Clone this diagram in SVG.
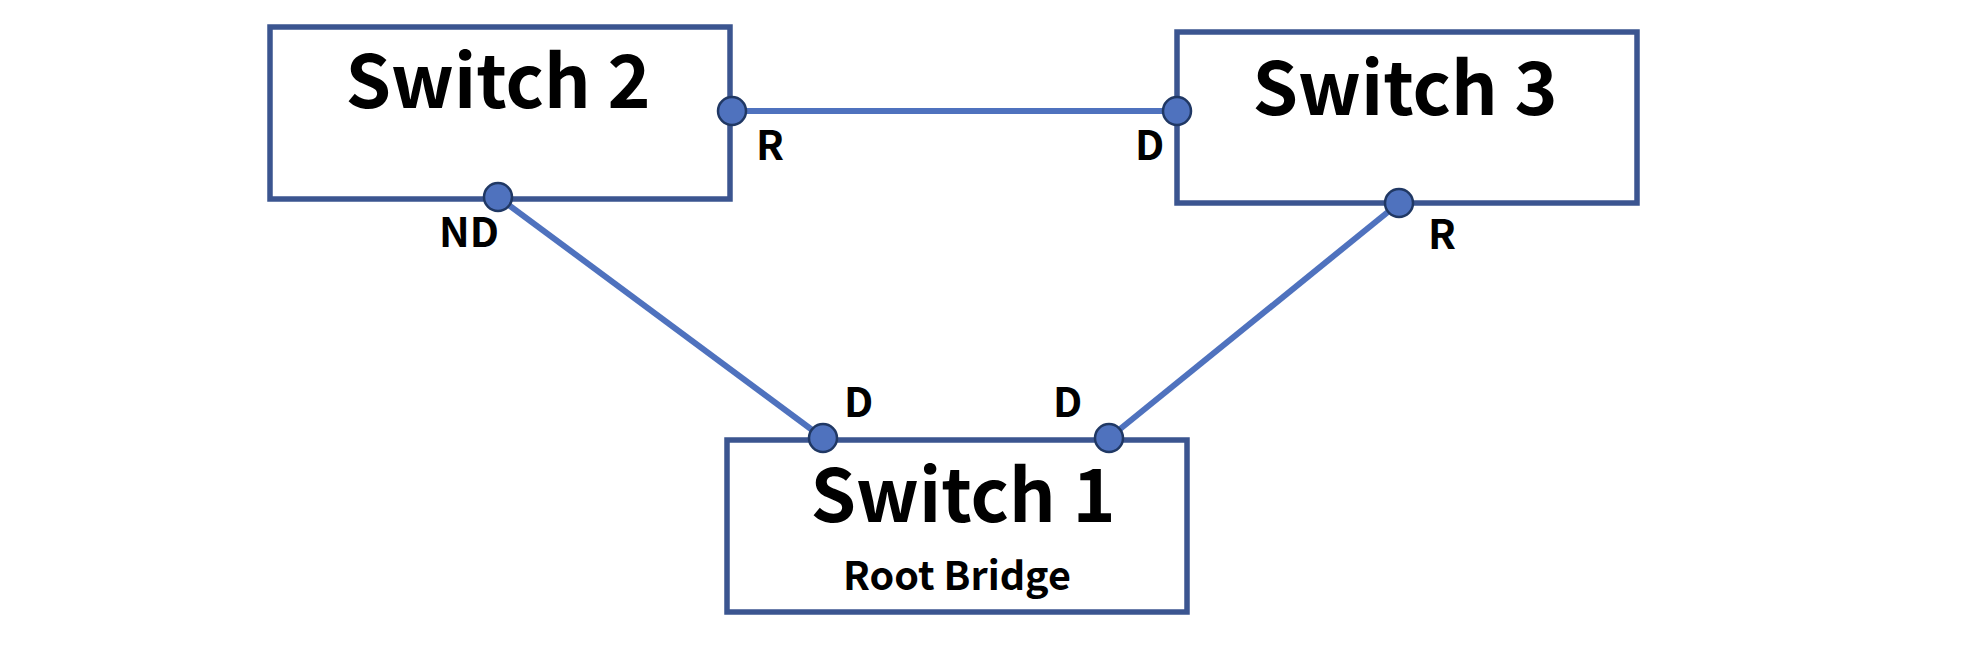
<svg xmlns="http://www.w3.org/2000/svg" width="1964" height="652" viewBox="0 0 1964 652">
<style>
.box{fill:#fff;stroke:#3b5590;stroke-width:5.5}
.link{stroke:#4f72be;stroke-width:6;fill:none}
.port{fill:#4f72be;stroke:#203864;stroke-width:2.5}
.title{font-family:"Noto Sans CJK SC","Noto Sans",sans-serif;font-weight:bold;font-size:73px;fill:#000;text-anchor:middle}
.lbl{font-family:"Noto Sans CJK SC","Noto Sans",sans-serif;font-weight:bold;font-size:41px;fill:#000}
.sub{font-family:"Noto Sans CJK SC","Noto Sans",sans-serif;font-weight:bold;font-size:39.5px;fill:#000;text-anchor:middle}
</style>
<rect width="1964" height="652" fill="#fff"/>
<g id="connectors">
<line class="link" x1="732" y1="111" x2="1177" y2="111"/>
<line class="link" x1="498" y1="197" x2="823" y2="438"/>
<line class="link" x1="1399" y1="203" x2="1109" y2="438"/>
</g>
<g id="switch2">
<rect class="box" x="270" y="27" width="460" height="172"/>
<text class="title" x="498" y="108">Switch 2</text>
<circle class="port" cx="732" cy="111" r="14"/>
<circle class="port" cx="498" cy="197" r="14"/>
<text class="lbl" x="756" y="160">R</text>
<text class="lbl" x="439" y="247">ND</text>
</g>
<g id="switch3">
<rect class="box" x="1177" y="32" width="460" height="171"/>
<text class="title" x="1405" y="115">Switch 3</text>
<circle class="port" cx="1177" cy="111" r="14"/>
<circle class="port" cx="1399" cy="203" r="14"/>
<text class="lbl" x="1135" y="160">D</text>
<text class="lbl" x="1428" y="249">R</text>
</g>
<g id="switch1">
<rect class="box" x="727" y="440" width="460" height="172"/>
<text class="title" x="963" y="522">Switch 1</text>
<text class="sub" x="957" y="590">Root Bridge</text>
<circle class="port" cx="823" cy="438" r="14"/>
<circle class="port" cx="1109" cy="438" r="14"/>
<text class="lbl" x="844" y="417">D</text>
<text class="lbl" x="1053" y="417">D</text>
</g>
</svg>
